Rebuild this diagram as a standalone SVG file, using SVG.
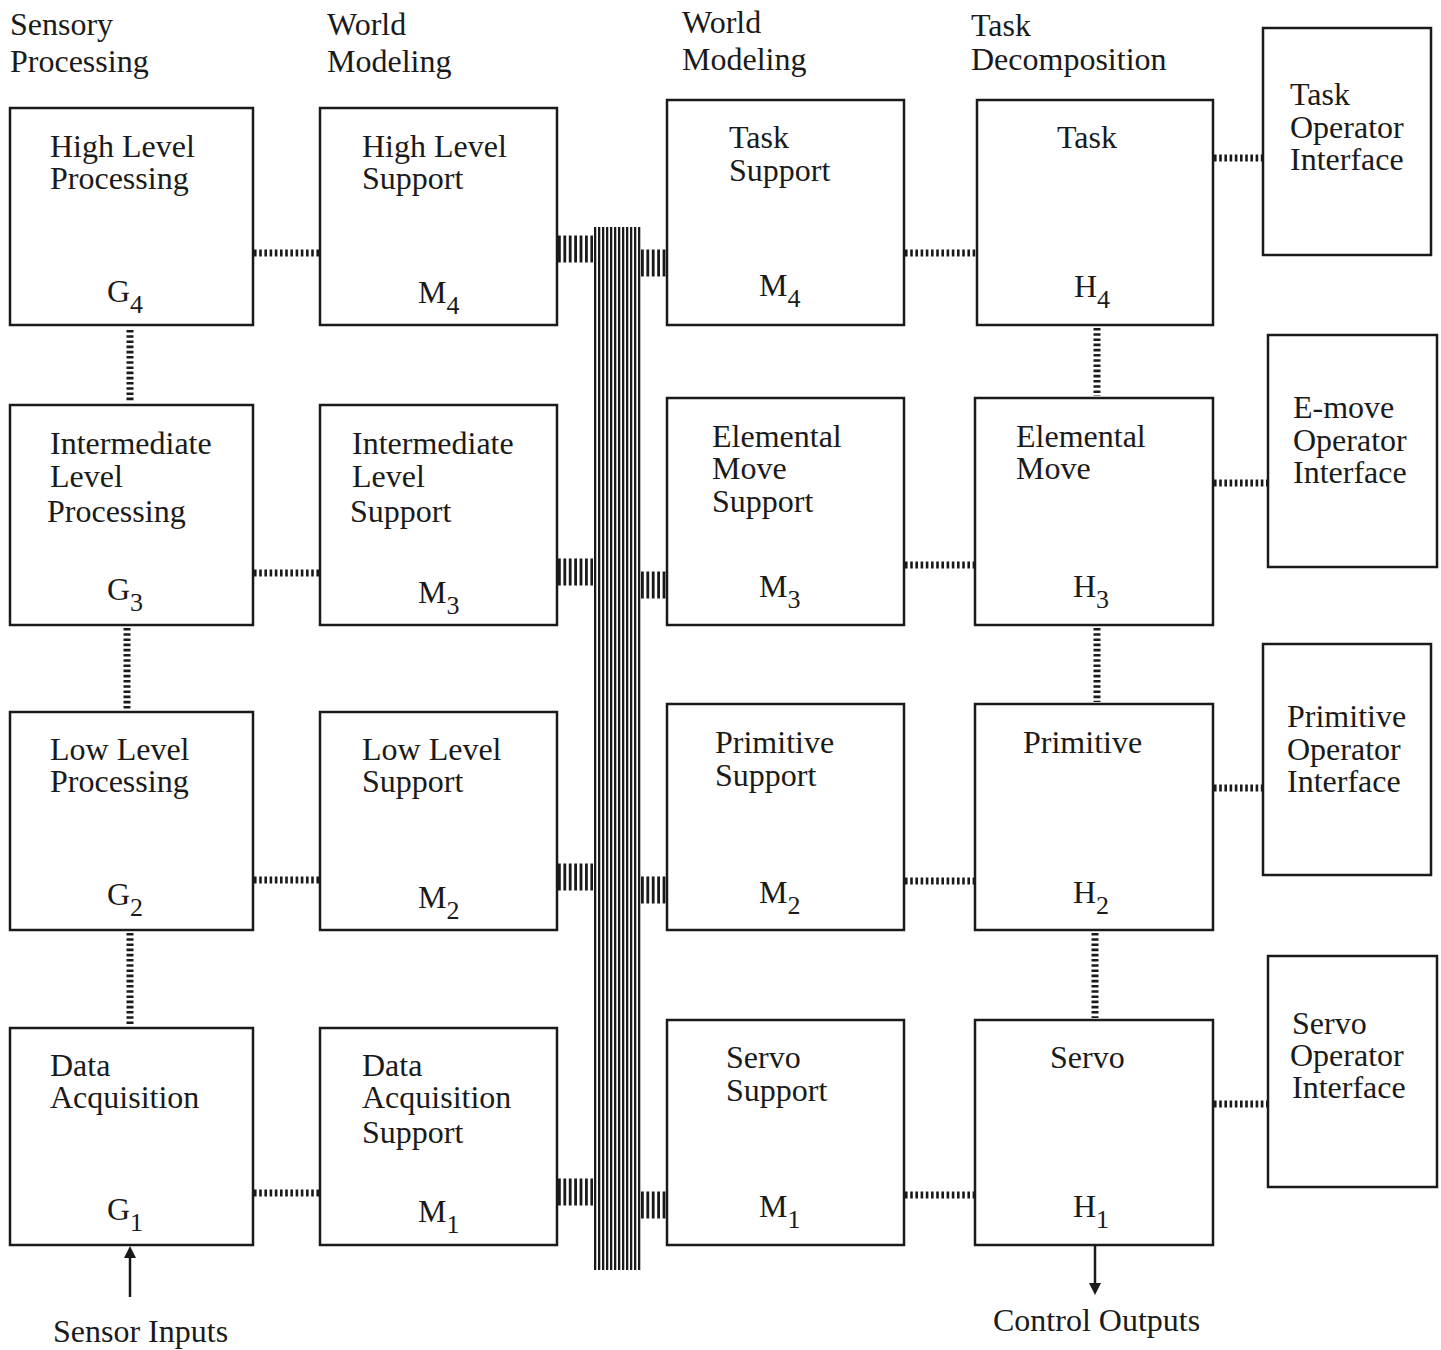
<svg xmlns="http://www.w3.org/2000/svg" width="1441" height="1350" viewBox="0 0 1441 1350">
<defs>
<style>
text{font-family:"Liberation Serif","Times New Roman",serif;font-size:32px;fill:#1a1a1a}
.sub{font-size:26px}
.box{fill:none;stroke:#1a1a1a;stroke-width:2.5}
.hc{stroke:#1a1a1a;stroke-width:7;stroke-dasharray:2.6 2.6;fill:none}
.vc{stroke:#1a1a1a;stroke-width:7;stroke-dasharray:2.6 2.6;fill:none}
.stub{stroke:#1a1a1a;stroke-width:27;stroke-dasharray:2.8 2.6;fill:none}
.arr{stroke:#1a1a1a;stroke-width:2.5;fill:none}
</style>
<pattern id="busp" x="594" y="0" width="4" height="10" patternUnits="userSpaceOnUse">
<rect x="0" y="0" width="2.3" height="10" fill="#1a1a1a"/>
</pattern>
</defs>
<rect width="1441" height="1350" fill="#ffffff"/>

<g id="headers">
<text x="10" y="35">Sensory</text><text x="10" y="72">Processing</text>
<text x="327" y="35">World</text><text x="327" y="72">Modeling</text>
<text x="682" y="33">World</text><text x="682" y="70">Modeling</text>
<text x="971" y="36">Task</text><text x="971" y="70">Decomposition</text>
</g>

<g id="connectors">
<rect x="594" y="227" width="47" height="1043" fill="url(#busp)"/>
<line class="hc" x1="254" y1="253" x2="320" y2="253"/>
<line class="hc" x1="254" y1="573" x2="320" y2="573"/>
<line class="hc" x1="254" y1="880" x2="320" y2="880"/>
<line class="hc" x1="254" y1="1193" x2="320" y2="1193"/>
<line class="stub" x1="558" y1="249" x2="593" y2="249"/>
<line class="stub" x1="558" y1="572" x2="593" y2="572"/>
<line class="stub" x1="558" y1="877" x2="593" y2="877"/>
<line class="stub" x1="558" y1="1192" x2="593" y2="1192"/>
<line class="stub" x1="641" y1="263" x2="667" y2="263"/>
<line class="stub" x1="641" y1="585" x2="667" y2="585"/>
<line class="stub" x1="641" y1="890" x2="667" y2="890"/>
<line class="stub" x1="641" y1="1205" x2="667" y2="1205"/>
<line class="hc" x1="905" y1="253" x2="977" y2="253"/>
<line class="hc" x1="905" y1="565" x2="975" y2="565"/>
<line class="hc" x1="905" y1="881" x2="975" y2="881"/>
<line class="hc" x1="905" y1="1195" x2="975" y2="1195"/>
<line class="hc" x1="1214" y1="158" x2="1263" y2="158"/>
<line class="hc" x1="1214" y1="483" x2="1268" y2="483"/>
<line class="hc" x1="1214" y1="788" x2="1263" y2="788"/>
<line class="hc" x1="1214" y1="1104" x2="1268" y2="1104"/>
<line class="vc" x1="130" y1="330" x2="130" y2="402"/>
<line class="vc" x1="127" y1="628" x2="127" y2="710"/>
<line class="vc" x1="130" y1="933" x2="130" y2="1026"/>
<line class="vc" x1="1097" y1="328" x2="1097" y2="396"/>
<line class="vc" x1="1097" y1="628" x2="1097" y2="702"/>
<line class="vc" x1="1095" y1="933" x2="1095" y2="1018"/>
<line class="arr" x1="130" y1="1297" x2="130" y2="1250"/>
<path d="M124,1258 L130,1246 L136,1258 Z" fill="#1a1a1a"/>
<line class="arr" x1="1095" y1="1246" x2="1095" y2="1290"/>
<path d="M1089,1283 L1095,1295 L1101,1283 Z" fill="#1a1a1a"/>
</g>

<g id="G4"><rect class="box" x="10" y="108" width="243" height="217"/>
<text x="50" y="157">High Level</text><text x="50" y="189">Processing</text>
<text x="107" y="302">G<tspan class="sub" dy="11">4</tspan></text></g>
<g id="G3"><rect class="box" x="10" y="405" width="243" height="220"/>
<text x="50" y="454">Intermediate</text><text x="50" y="487">Level</text><text x="47" y="522">Processing</text>
<text x="107" y="600">G<tspan class="sub" dy="11">3</tspan></text></g>
<g id="G2"><rect class="box" x="10" y="712" width="243" height="218"/>
<text x="50" y="760">Low Level</text><text x="50" y="792">Processing</text>
<text x="107" y="905">G<tspan class="sub" dy="11">2</tspan></text></g>
<g id="G1"><rect class="box" x="10" y="1028" width="243" height="217"/>
<text x="50" y="1076">Data</text><text x="50" y="1108">Acquisition</text>
<text x="107" y="1220">G<tspan class="sub" dy="11">1</tspan></text></g>

<g id="M4a"><rect class="box" x="320" y="108" width="237" height="217"/>
<text x="362" y="157">High Level</text><text x="362" y="189">Support</text>
<text x="418" y="303">M<tspan class="sub" dy="11">4</tspan></text></g>
<g id="M3a"><rect class="box" x="320" y="405" width="237" height="220"/>
<text x="352" y="454">Intermediate</text><text x="352" y="487">Level</text><text x="350" y="522">Support</text>
<text x="418" y="603">M<tspan class="sub" dy="11">3</tspan></text></g>
<g id="M2a"><rect class="box" x="320" y="712" width="237" height="218"/>
<text x="362" y="760">Low Level</text><text x="362" y="792">Support</text>
<text x="418" y="908">M<tspan class="sub" dy="11">2</tspan></text></g>
<g id="M1a"><rect class="box" x="320" y="1028" width="237" height="217"/>
<text x="362" y="1076">Data</text><text x="362" y="1108">Acquisition</text><text x="362" y="1143">Support</text>
<text x="418" y="1222">M<tspan class="sub" dy="11">1</tspan></text></g>

<g id="M4b"><rect class="box" x="667" y="100" width="237" height="225"/>
<text x="729" y="148">Task</text><text x="729" y="181">Support</text>
<text x="759" y="296">M<tspan class="sub" dy="11">4</tspan></text></g>
<g id="M3b"><rect class="box" x="667" y="398" width="237" height="227"/>
<text x="712" y="447">Elemental</text><text x="712" y="479">Move</text><text x="712" y="512">Support</text>
<text x="759" y="597">M<tspan class="sub" dy="11">3</tspan></text></g>
<g id="M2b"><rect class="box" x="667" y="704" width="237" height="226"/>
<text x="715" y="753">Primitive</text><text x="715" y="786">Support</text>
<text x="759" y="903">M<tspan class="sub" dy="11">2</tspan></text></g>
<g id="M1b"><rect class="box" x="667" y="1020" width="237" height="225"/>
<text x="726" y="1068">Servo</text><text x="726" y="1101">Support</text>
<text x="759" y="1217">M<tspan class="sub" dy="11">1</tspan></text></g>

<g id="H4"><rect class="box" x="977" y="100" width="236" height="225"/>
<text x="1057" y="148">Task</text>
<text x="1074" y="297">H<tspan class="sub" dy="11">4</tspan></text></g>
<g id="H3"><rect class="box" x="975" y="398" width="238" height="227"/>
<text x="1016" y="447">Elemental</text><text x="1016" y="479">Move</text>
<text x="1073" y="597">H<tspan class="sub" dy="11">3</tspan></text></g>
<g id="H2"><rect class="box" x="975" y="704" width="238" height="226"/>
<text x="1023" y="753">Primitive</text>
<text x="1073" y="903">H<tspan class="sub" dy="11">2</tspan></text></g>
<g id="H1"><rect class="box" x="975" y="1020" width="238" height="225"/>
<text x="1050" y="1068">Servo</text>
<text x="1073" y="1217">H<tspan class="sub" dy="11">1</tspan></text></g>

<g id="OI4"><rect class="box" x="1263" y="28" width="168" height="227"/>
<text x="1290" y="105">Task</text><text x="1290" y="138">Operator</text><text x="1290" y="170">Interface</text></g>
<g id="OI3"><rect class="box" x="1268" y="335" width="169" height="232"/>
<text x="1293" y="418">E-move</text><text x="1293" y="451">Operator</text><text x="1293" y="483">Interface</text></g>
<g id="OI2"><rect class="box" x="1263" y="644" width="168" height="231"/>
<text x="1287" y="727">Primitive</text><text x="1287" y="760">Operator</text><text x="1287" y="792">Interface</text></g>
<g id="OI1"><rect class="box" x="1268" y="956" width="169" height="231"/>
<text x="1292" y="1034">Servo</text><text x="1290" y="1066">Operator</text><text x="1292" y="1098">Interface</text></g>

<g id="io">
<text x="53" y="1342">Sensor Inputs</text>
<text x="993" y="1331">Control Outputs</text>
</g>
</svg>
